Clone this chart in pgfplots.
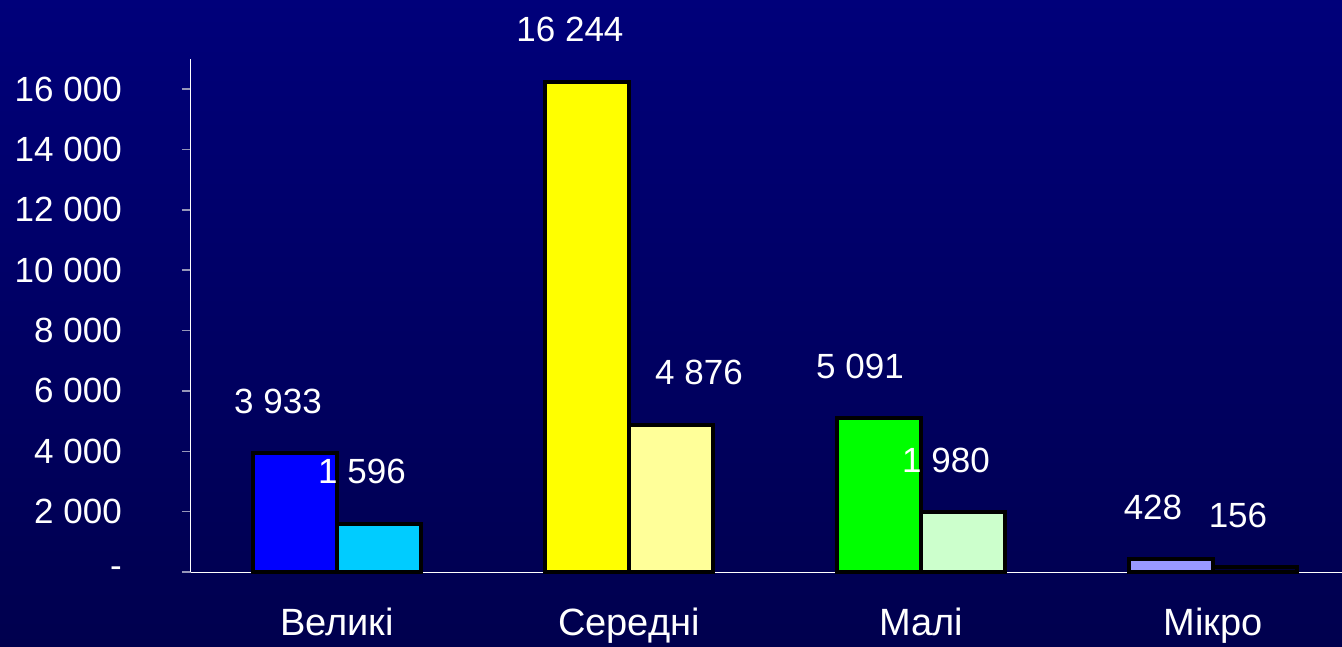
\documentclass[border=0pt]{standalone}
\usepackage{fontspec}
\setmainfont{Liberation Sans}
\usepackage{pgfplots}
\pgfplotsset{compat=1.18}
\definecolor{bgtop}{RGB}{0,0,122}
\definecolor{bgbot}{RGB}{0,0,78}
\definecolor{tickc}{RGB}{150,150,185}
\definecolor{cA}{RGB}{0,0,255}
\definecolor{cB}{RGB}{0,204,255}
\definecolor{cC}{RGB}{255,255,0}
\definecolor{cD}{RGB}{255,255,153}
\definecolor{cE}{RGB}{0,255,0}
\definecolor{cF}{RGB}{204,255,204}
\definecolor{cG}{RGB}{153,153,255}
\definecolor{cH}{RGB}{0,0,60}
\begin{document}
\begin{tikzpicture}
\shade[top color=bgtop, bottom color=bgbot] (0,0) rectangle (1342pt,646pt);
\begin{axis}[
  at={(191pt,74pt)}, anchor=south west,
  scale only axis, width=1168pt, height=513pt,
  xmin=-0.5, xmax=3.5, ymin=0, ymax=17000,
  scaled y ticks=false,
  axis lines*=left,
  axis line style={white, line width=1pt},
  tick align=outside,
  major tick length=9pt, minor tick length=10pt,
  xtick={0,1,2,3},
  xticklabels={Великі,Середні,Малі,Мікро},
  minor xtick={-0.5,0.5,1.5,2.5},
  xtick style={draw=none},
  minor x tick style={white, line width=1pt},
  ytick={0,2000,4000,6000,8000,10000,12000,14000,16000},
  yticklabels={-,2 000,4 000,6 000,8 000,10 000,12 000,14 000,16 000},
  y tick style={tickc, line width=1.5pt},
  yticklabel style={font=\fontsize{35}{40}\selectfont, text=white, anchor=east, inner sep=0pt, xshift=-60pt},
  xticklabel style={font=\fontsize{38}{44}\selectfont, text=white, anchor=base, inner sep=0pt, yshift=-54pt},
  every node near coord/.style={font=\fontsize{35}{40}\selectfont, text=white, anchor=center, inner sep=0pt, yshift=52pt},
  point meta=explicit symbolic,
  clip=false,
]
\addplot[ybar, bar width=84pt, bar shift=-42pt, fill=cA, draw=black, line width=4pt, nodes near coords, every node near coord/.append style={xshift=-59pt}] coordinates {(0,3933) [3 933]};
\addplot[ybar, bar width=84pt, bar shift=42pt, fill=cB, draw=black, line width=4pt, nodes near coords, every node near coord/.append style={xshift=25pt}] coordinates {(0,1596) [1 596]};
\addplot[ybar, bar width=84pt, bar shift=-42pt, fill=cC, draw=black, line width=4pt, nodes near coords, every node near coord/.append style={xshift=-59pt}] coordinates {(1,16244) [16 244]};
\addplot[ybar, bar width=84pt, bar shift=42pt, fill=cD, draw=black, line width=4pt, nodes near coords, every node near coord/.append style={xshift=70pt}] coordinates {(1,4876) [4 876]};
\addplot[ybar, bar width=84pt, bar shift=-42pt, fill=cE, draw=black, line width=4pt, nodes near coords, every node near coord/.append style={xshift=-61pt}] coordinates {(2,5091) [5 091]};
\addplot[ybar, bar width=84pt, bar shift=42pt, fill=cF, draw=black, line width=4pt, nodes near coords, every node near coord/.append style={xshift=25pt}] coordinates {(2,1980) [1 980]};
\addplot[ybar, bar width=84pt, bar shift=-42pt, fill=cG, draw=black, line width=4pt, nodes near coords, every node near coord/.append style={xshift=-60pt}] coordinates {(3,428) [428]};
\addplot[ybar, bar width=84pt, bar shift=42pt, fill=cH, draw=black, line width=4pt, nodes near coords, every node near coord/.append style={xshift=25pt}] coordinates {(3,156) [156]};
\end{axis}
\pgfresetboundingbox
\useasboundingbox (0,0) rectangle (1342pt,646pt);
\end{tikzpicture}
\end{document}
